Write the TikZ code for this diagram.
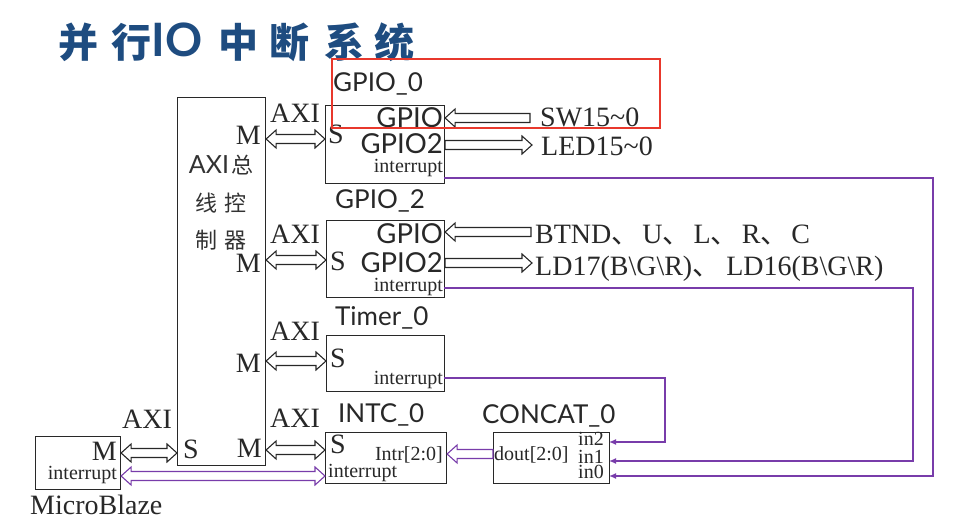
\documentclass[tikz,border=0pt]{standalone}
\usepackage{fontspec}
\setmainfont{Liberation Serif}
\newfontfamily\gsans{Lato}
\newfontfamily\cjk{Noto Sans CJK SC}
\usetikzlibrary{arrows.meta,calc}
\definecolor{ttl}{RGB}{30,76,128}
\definecolor{ipurple}{RGB}{120,60,170}
\definecolor{redbox}{RGB}{232,56,44}
\definecolor{ink}{RGB}{40,40,40}
\definecolor{cgray}{RGB}{50,50,50}

% double-headed hollow block arrow between two points (same y as first)
\newcommand\dblarrow[3][ink]{%
  \draw[#1, line width=1.1pt, line join=miter] let \p1=(#2), \p2=(#3) in
   (\x1,\y1) -- (\x1+10pt,\y1+9pt) -- (\x1+10pt,\y1+4.5pt) -- (\x2-10pt,\y1+4.5pt) -- (\x2-10pt,\y1+9pt) -- (\x2,\y1)
   -- (\x2-10pt,\y1-9pt) -- (\x2-10pt,\y1-4.5pt) -- (\x1+10pt,\y1-4.5pt) -- (\x1+10pt,\y1-9pt) -- cycle;}
% leftward hollow arrow: #2 tip (left), #3 tail (right)
\newcommand\larrow[3][ink]{%
  \draw[#1, line width=1.1pt, line join=miter] let \p1=(#2), \p2=(#3) in
   (\x1,\y1) -- (\x1+10pt,\y1+9pt) -- (\x1+10pt,\y1+4.5pt) -- (\x2,\y1+4.5pt) -- (\x2,\y1-4.5pt)
   -- (\x1+10pt,\y1-4.5pt) -- (\x1+10pt,\y1-9pt) -- cycle;}
% rightward hollow arrow: #2 tail (left), #3 tip (right)
\newcommand\rarrow[3][ink]{%
  \draw[#1, line width=1.1pt, line join=miter] let \p1=(#2), \p2=(#3) in
   (\x2,\y1) -- (\x2-10pt,\y1+9pt) -- (\x2-10pt,\y1+4.5pt) -- (\x1,\y1+4.5pt) -- (\x1,\y1-4.5pt)
   -- (\x2-10pt,\y1-4.5pt) -- (\x2-10pt,\y1-9pt) -- cycle;}

\begin{document}
\begin{tikzpicture}[x=1pt,y=-1pt,
  blk/.style={draw=ink, line width=1.1pt, fill=white, inner sep=0, anchor=north west},
  lbl/.style={font=\fontsize{28}{30}\selectfont, text=ink, inner sep=0},
  sm/.style={font=\fontsize{20}{20}\selectfont, text=ink, inner sep=0},
  ipname/.style={font=\gsans\fontsize{26}{28}\selectfont, text=ink, inner sep=0},
  port/.style={font=\gsans\fontsize{27.5}{30}\selectfont, text=ink, inner sep=0},
  ttlc/.style={font=\cjk\bfseries\fontsize{40}{42}\selectfont, text=ttl, inner sep=0},
  busc/.style={font=\cjk\fontsize{22}{24}\selectfont, text=cgray, inner sep=0},
  intl/.style={draw=ipurple, line width=1.5pt},
  intarr/.style={intl, -{Latex[length=7pt,width=6pt]}}]
\path[use as bounding box, fill=white] (0,0) rectangle (958,527);

% ---- title ----
\node[ttlc] (t1) at (78,42) {并};
\node[ttlc] (t2) at (131,42) {行};
\node[font=\gsans\bfseries\fontsize{46}{46}\selectfont, text=ttl, inner sep=0] (t3) at (177,40) {IO};
\node[ttlc] (t4) at (238,42) {中};
\node[ttlc] (t5) at (289,42) {断};
\node[ttlc] (t6) at (344,42) {系};
\node[ttlc] (t7) at (394,42) {统};

% ---- boxes ----
\node[blk, minimum width=88, minimum height=368] (bus) at (177,97) {};
\node[blk, minimum width=119, minimum height=78] (g0) at (325,105) {};
\node[blk, minimum width=118, minimum height=77] (g2) at (326,220) {};
\node[blk, minimum width=118, minimum height=56] (tm) at (326,335) {};
\node[blk, minimum width=121, minimum height=51] (ic) at (325,432) {};
\node[blk, minimum width=116, minimum height=51] (cc) at (493,432) {};
\node[blk, minimum width=85, minimum height=53] (mb) at (35,436) {};

% ---- bus label ----
\node[busc, anchor=center] (bl1) at (221,165) {{\gsans\fontsize{25}{26}\selectfont AXI}\hspace{2pt}总};
\node[busc, anchor=center] (bl2) at (221,203) {线\hspace{7pt}控};
\node[busc, anchor=center] (bl3) at (221,240) {制\hspace{7pt}器};

% ---- GPIO_0 ----
\node[ipname, anchor=base west] (g0n) at (333,92) {GPIO\_0};
\node[port, anchor=base east] (g0p1) at (443,127) {GPIO};
\node[port, anchor=base east] (g0p2) at (443,153) {GPIO2};
\node[sm, anchor=base east] (g0it) at (443,172) {interrupt};
\node[lbl, anchor=base west] (g0s) at (328,143) {S};
\node[lbl, anchor=base east] (g0m) at (261,144) {M};
\node[lbl, anchor=base] (g0axi) at (295,122) {AXI};
\dblarrow{bus.east|-0,139}{g0.west|-0,139}
\node[lbl, anchor=base west] (sw) at (540,126) {SW15\textasciitilde 0};
\coordinate (swt) at (530,118);
\larrow{g0.east|-swt}{swt}
\node[lbl, anchor=base west] (led) at (541,155) {LED15\textasciitilde 0};
\coordinate (ledt) at (532,145);
\rarrow{g0.east|-ledt}{ledt}

% ---- GPIO_2 ----
\node[ipname, anchor=base west] (g2n) at (335,208) {GPIO\_2};
\node[port, anchor=base east] (g2p1) at (443,243) {GPIO};
\node[port, anchor=base east] (g2p2) at (443,272) {GPIO2};
\node[sm, anchor=base east] (g2it) at (443,291) {interrupt};
\node[lbl, anchor=base west] (g2s) at (330,270) {S};
\node[lbl, anchor=base east] (g2m) at (261,272) {M};
\node[lbl, anchor=base] (g2axi) at (295,243) {AXI};
\dblarrow{bus.east|-0,260}{g2.west|-0,260}
\node[lbl, anchor=base west] (btn) at (535,243) {BTND{\cjk 、}\hspace{3pt}U{\cjk 、}\hspace{3pt}L{\cjk 、}\hspace{3pt}R{\cjk 、}\hspace{3pt}C};
\coordinate (btnt) at (531,232);
\larrow{g2.east|-btnt}{btnt}
\node[lbl, anchor=base west] (ld) at (535,275) {LD17(B\textbackslash G\textbackslash R){\cjk 、}\hspace{6pt}LD16(B\textbackslash G\textbackslash R)};
\coordinate (ldt) at (532,263);
\rarrow{g2.east|-ldt}{ldt}

% ---- Timer_0 ----
\node[ipname, anchor=base west] (tmn) at (335,325) {Timer\_0};
\node[lbl, anchor=base west] (tms) at (330,367) {S};
\node[sm, anchor=base east] (tmit) at (443,384) {interrupt};
\node[lbl, anchor=base east] (tmm) at (261,372) {M};
\node[lbl, anchor=base] (tmaxi) at (295,340) {AXI};
\dblarrow{bus.east|-0,361}{tm.west|-0,361}

% ---- INTC_0 ----
\node[ipname, anchor=base west] (icn) at (338,422) {INTC\_0};
\node[lbl, anchor=base west] (ics) at (330,453) {S};
\node[sm, anchor=base east] (icin) at (443,460) {Intr[2:0]};
\node[sm, anchor=base west] (icit) at (328,477) {interrupt};
\node[lbl, anchor=base east] (icm) at (262,457) {M};
\node[lbl, anchor=base] (icaxi) at (295,427) {AXI};
\dblarrow{bus.east|-0,450}{ic.west|-0,450}

% ---- CONCAT_0 ----
\node[ipname, anchor=base west] (ccn) at (482,423) {CONCAT\_0};
\node[sm, anchor=base west] (ccd) at (494,460) {dout[2:0]};
\node[sm, anchor=base west] (cc2) at (578,445) {in2};
\node[sm, anchor=base west] (cc1) at (578,463) {in1};
\node[sm, anchor=base west] (cc0) at (578,478) {in0};
\larrow[ipurple]{ic.east|-0,454}{cc.west|-0,454}

% ---- MicroBlaze ----
\node[lbl, anchor=base east] (mbm) at (117,460) {M};
\node[sm, anchor=base east] (mbit) at (117,479) {interrupt};
\node[lbl, anchor=base west] (mbn) at (30,514) {MicroBlaze};
\node[lbl, anchor=base] (mbaxi) at (147,428) {AXI};
\node[lbl, anchor=base west] (buss) at (183,458) {S};
\dblarrow{mb.east|-0,453}{bus.west|-0,453}
\dblarrow[ipurple]{mb.east|-0,476}{ic.west|-0,476}

% ---- interrupt lines ----
\coordinate (g0i) at (444,178);
\coordinate (g2i) at (444,288);
\coordinate (tmi) at (444,378);
\coordinate (in0) at (609,476);
\coordinate (in1) at (609,461);
\coordinate (in2) at (609,442);
\draw[intarr] (g0i) -- (933,178) -- (933,476) -- (in0);
\draw[intarr] (g2i) -- (913,288) -- (913,461) -- (in1);
\draw[intarr] (tmi) -- (665,378) -- (665,442) -- (in2);

% ---- highlight ----
\draw[redbox, line width=2pt] (332,59) rectangle (660,128);
\end{tikzpicture}
\end{document}
